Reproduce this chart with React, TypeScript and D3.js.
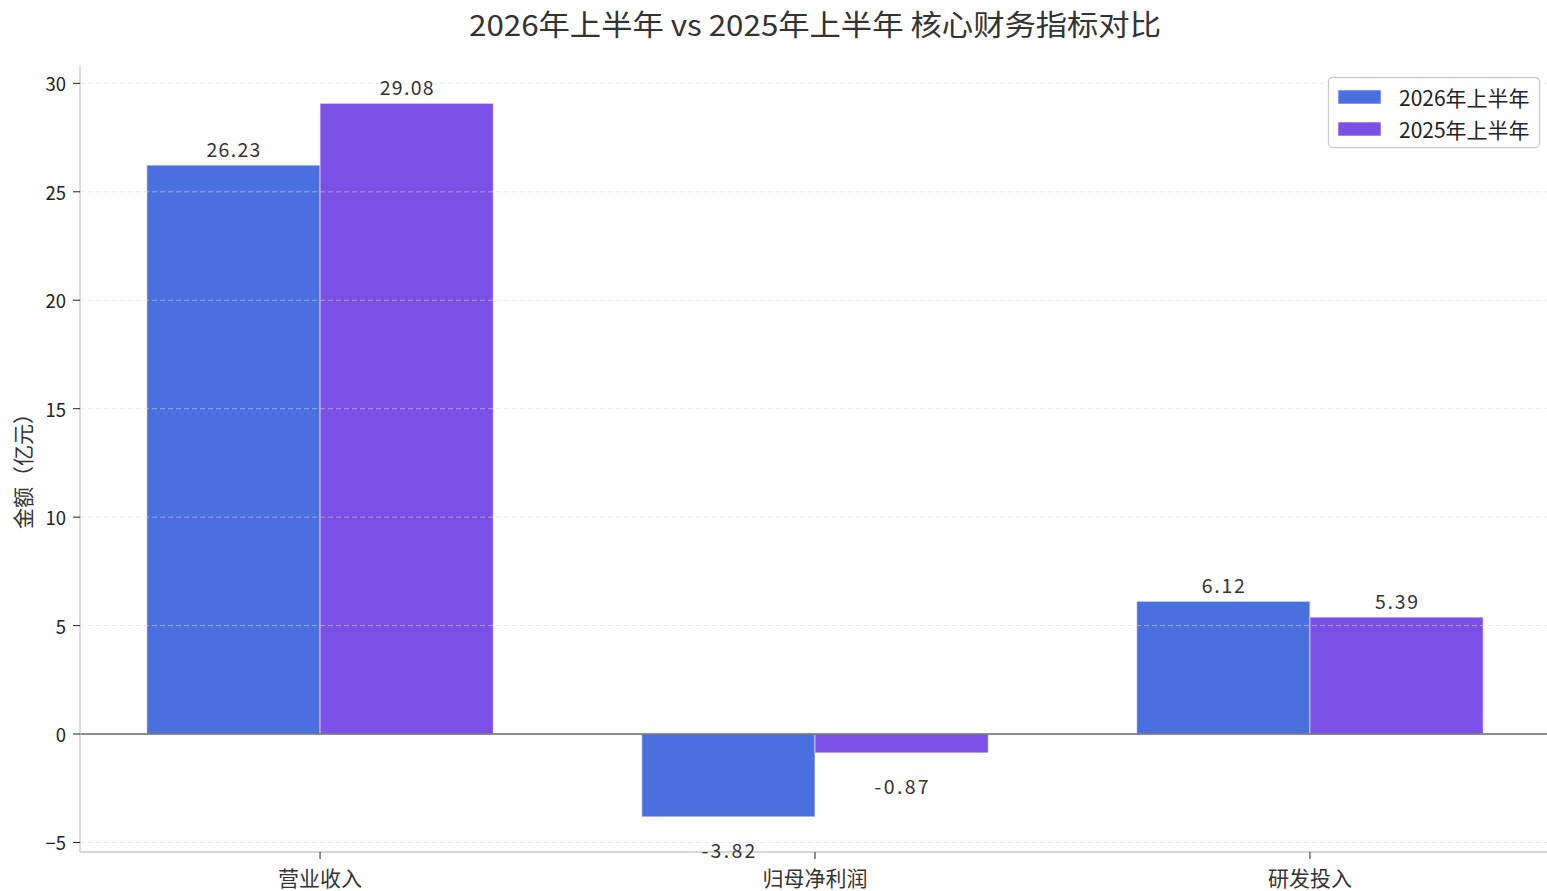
import React from "react";
import * as d3 from "d3";

const categories = ["营业收入", "归母净利润", "研发投入"];
const seriesNames = ["2026年上半年", "2025年上半年"];
const values2026 = [26.23, -3.82, 6.12];
const values2025 = [29.08, -0.87, 5.39];
const yTicks = [-5, 0, 5, 10, 15, 20, 25, 30];
const colors = ["#4A70E0", "#7B50E6"];

const W = 1547;
const H = 891;
const FONT = "'Noto Sans CJK SC', 'Noto Sans', sans-serif";

export default function App() {
  const left = 80;
  const right = 1550;
  const top = 66;
  const bottom = 852;
  const barW = 0.35;

  const x = d3.scaleLinear().domain([-0.485, 2.485]).range([left, right]);
  const y = d3.scaleLinear().domain([-5.44, 30.8]).range([bottom, top]);
  const series = [values2026, values2025];

  return (
    <div style={{ position: "fixed", left: 0, top: 0, background: "#fff" }}>
      <svg width={W} height={H} style={{ display: "block", fontFamily: FONT }}>
        <rect width={W} height={H} fill="#fff" />
        <text
          x={815}
          y={23}
          textAnchor="middle"
          dominantBaseline="central"
          fontSize={29}
          fill="#333"
          textLength={692}
          lengthAdjust="spacingAndGlyphs"
        >
          2026年上半年 vs 2025年上半年 核心财务指标对比
        </text>

        {/* bars */}
        {series.map((vals, si) =>
          vals.map((v, ci) => {
            const x0 = x(ci - barW + si * barW);
            const x1 = x(ci + si * barW);
            const yTop = y(Math.max(0, v));
            const yBot = y(Math.min(0, v));
            return (
              <rect
                key={`b${si}-${ci}`}
                x={x0}
                y={yTop}
                width={x1 - x0}
                height={yBot - yTop}
                fill={colors[si]}
                stroke="#ffffff"
                strokeOpacity={0.6}
                strokeWidth={1}
              />
            );
          })
        )}

        {/* grid on top */}
        {yTicks.map((t) => (
          <line
            key={`g${t}`}
            x1={left}
            x2={right}
            y1={y(t)}
            y2={y(t)}
            stroke="#d9d9d9"
            strokeOpacity={0.7}
            strokeDasharray="5,3"
            strokeWidth={0.8}
          />
        ))}

        {/* zero line */}
        <line x1={left} x2={right} y1={y(0)} y2={y(0)} stroke="#6b6b6b" strokeWidth={1.3} />

        {/* spines */}
        <line x1={left} x2={left} y1={top} y2={bottom} stroke="#c8c8c8" strokeWidth={1.3} />
        <line x1={left} x2={right} y1={bottom} y2={bottom} stroke="#c8c8c8" strokeWidth={1.3} />

        {/* y ticks */}
        {yTicks.map((t) => (
          <g key={`yt${t}`}>
            <line x1={left - 7} x2={left} y1={y(t)} y2={y(t)} stroke="#222" strokeWidth={1} />
            <text
              x={left - 14}
              y={y(t)}
              textAnchor="end"
              dominantBaseline="central"
              fontSize={18.5}
              fill="#222"
            >
              {t < 0 ? `\u2212${Math.abs(t)}` : t}
            </text>
          </g>
        ))}

        {/* x ticks */}
        {categories.map((c, i) => (
          <g key={`xt${i}`}>
            <line x1={x(i)} x2={x(i)} y1={bottom} y2={bottom + 7} stroke="#222" strokeWidth={1} />
            <text x={x(i)} y={877} textAnchor="middle" dominantBaseline="central" fontSize={21} fill="#333">
              {c}
            </text>
          </g>
        ))}

        {/* y label */}
        <text
          transform={`translate(22, 466) rotate(-90)`}
          textAnchor="middle"
          dominantBaseline="central"
          fontSize={21}
          fill="#333"
        >
          金额（亿元）
        </text>

        {/* value labels */}
        {series.map((vals, si) =>
          vals.map((v, ci) => {
            const cx = x(ci - barW / 2 + si * barW);
            const ly = v >= 0 ? y(v) - 17 : y(v) + 33;
            const label = v.toFixed(2);
            return (
              <text
                key={`l${si}-${ci}`}
                x={cx}
                y={ly}
                textAnchor="middle"
                dominantBaseline="central"
                fontSize={19.5}
                fill="#333"
                textLength={label.length * 10.8}
                lengthAdjust="spacing"
              >
                {label}
              </text>
            );
          })
        )}

        {/* legend */}
        <rect x={1328.5} y={77.5} width={211} height={70} rx={4} fill="#fff" fillOpacity={0.85} stroke="#cccccc" strokeWidth={1.3} />
        {seriesNames.map((n, i) => (
          <g key={`lg${i}`}>
            <rect x={1338} y={90 + i * 32} width={43} height={14} fill={colors[i]} stroke="#fff" strokeOpacity={0.6} />
            <text x={1399} y={97 + i * 32} dominantBaseline="central" fontSize={21} fill="#222">
              {n}
            </text>
          </g>
        ))}
      </svg>
    </div>
  );
}
